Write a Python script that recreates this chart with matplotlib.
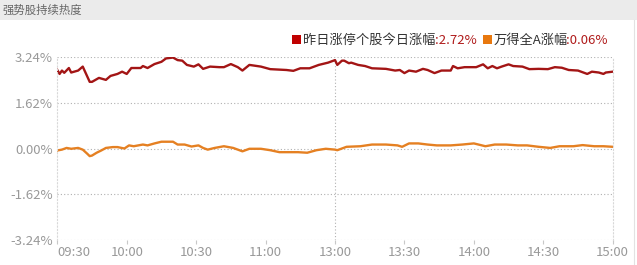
import matplotlib
matplotlib.use('Agg')
import matplotlib.pyplot as plt
from matplotlib.patches import Rectangle

plt.rcParams['font.family'] = ['Noto Sans CJK SC', 'DejaVu Sans']

title = '强势股持续热度'
name1 = '昨日涨停个股今日涨幅'
name2 = '万得全A涨幅'
last1 = ':2.72%'
last2 = ':0.06%'

# trading minutes since 09:30 (0..240, lunch break removed)
t_red = [0, 1, 2, 3, 5, 6, 9, 11, 12, 14, 15, 18, 21, 23, 26, 28, 30, 32, 36, 37,
         39, 42, 45, 47, 50, 52, 54, 56, 59, 61, 63, 66, 70, 72, 75, 78, 80, 83, 88, 92,
         99, 102, 105, 109, 113, 117, 120, 121, 123, 124, 126, 127, 130, 133, 136, 142, 146, 148, 150, 152,
         155, 158, 160, 163, 166, 170, 171, 173, 176, 181, 184, 186, 188, 190, 192, 195, 197, 201, 204, 208,
         212, 215, 218, 221, 225, 229, 231, 234, 236, 237, 240]
v_red = [2.78, 2.64, 2.76, 2.68, 2.85, 2.69, 2.76, 2.90, 2.72, 2.36, 2.36, 2.50, 2.43, 2.57, 2.64, 2.72, 2.64, 2.85, 2.85, 2.92,
         2.85, 2.99, 3.07, 3.19, 3.22, 3.13, 3.11, 2.96, 2.90, 2.98, 2.82, 2.90, 2.88, 2.88, 2.99, 2.88, 2.76, 2.96, 2.90, 2.81,
         2.78, 2.75, 2.84, 2.84, 2.96, 3.04, 3.13, 2.96, 3.11, 3.11, 3.02, 3.04, 2.96, 2.92, 2.84, 2.82, 2.76, 2.78, 2.67, 2.76,
         2.72, 2.82, 2.78, 2.67, 2.76, 2.76, 2.92, 2.84, 2.88, 2.88, 2.98, 2.84, 2.92, 2.84, 2.90, 2.98, 2.92, 2.90, 2.81, 2.82,
         2.81, 2.88, 2.86, 2.78, 2.76, 2.64, 2.72, 2.69, 2.64, 2.69, 2.72]

t_org = [0, 2, 4, 6, 9, 11, 13, 14, 15, 17, 19, 21, 24, 26, 29, 31, 33, 37, 39, 42,
         45, 50, 52, 55, 58, 61, 63, 65, 68, 72, 76, 80, 83, 88, 92, 96, 104, 108, 112, 116,
         120, 121, 125, 131, 136, 142, 147, 149, 152, 156, 160, 164, 170, 175, 180, 185, 189, 194, 199, 203,
         208, 213, 217, 223, 227, 232, 236, 240]
v_org = [-0.07, -0.04, 0.02, -0.01, 0.02, -0.04, -0.19, -0.27, -0.25, -0.15, -0.07, 0.02, 0.05, 0.05, 0.00, 0.11, 0.08, 0.14, 0.11, 0.18,
         0.24, 0.24, 0.14, 0.14, 0.07, 0.11, 0.02, -0.04, 0.02, 0.08, 0.02, -0.10, -0.01, -0.01, -0.06, -0.13, -0.13, -0.15, -0.06, -0.01,
         -0.04, -0.06, 0.06, 0.08, 0.14, 0.14, 0.11, 0.06, 0.18, 0.18, 0.14, 0.11, 0.11, 0.14, 0.18, 0.08, 0.14, 0.14, 0.11, 0.11,
         0.06, 0.02, 0.08, 0.08, 0.12, 0.08, 0.08, 0.06]

x_ticks = [0, 30, 60, 90, 120, 150, 180, 210, 240]
x_labels = ['09:30', '10:00', '10:30', '11:00', '13:00', '13:30', '14:00', '14:30', '15:00']
y_ticks = [-3.24, -1.62, 0.0, 1.62, 3.24]
y_labels = ['-3.24%', '-1.62%', '0.00%', '1.62%', '3.24%']

red = '#a31515'
orange = '#e58022'
grid = '#b0b0b0'
label_c = '#999999'

fig = plt.figure(figsize=(6.37, 2.65), dpi=100)
W, H = 637.0, 265.0

# title bar
fig.add_artist(Rectangle((0, 1 - 20 / H), 1, 20 / H, transform=fig.transFigure,
                         facecolor='#ebebeb', edgecolor='none'))
fig.text(2 / W, 1 - 10 / H, title, fontsize=8.2, color='#666666', va='center', ha='left')
fig.add_artist(plt.Line2D([634 / W, 634 / W], [0, 1 - 20 / H], transform=fig.transFigure,
                          color='#e2e2e2', lw=0.8))

ax = fig.add_axes([57.3 / W, 1 - 240 / H, 555.4 / W, 183 / H])
ax.plot(t_red, v_red, color=red, lw=1.7, solid_joinstyle='round')
ax.plot(t_org, v_org, color=orange, lw=1.7, solid_joinstyle='round')

ax.set_xlim(0, 240)
ax.set_ylim(-3.24, 3.24)
ax.set_xticks(x_ticks)
ax.set_xticklabels(x_labels, fontsize=9.5, color=label_c)
ax.get_xticklabels()[0].set_horizontalalignment('left')
ax.set_yticks(y_ticks)
ax.set_yticklabels(y_labels, fontsize=9.5, color=label_c)
ax.tick_params(axis='x', length=3, color='#c8c8c8', pad=1)
ax.tick_params(axis='y', length=0, pad=3)

for y in y_ticks:
    ax.axhline(y, color=grid, lw=0.8, ls=(0, (1, 2)), zorder=0)
ax.axvline(120, color=grid, lw=0.8, ls=(0, (1, 2)), zorder=0)

for s in ['top', 'bottom']:
    ax.spines[s].set_visible(False)
for s in ['left', 'right']:
    ax.spines[s].set_color('#d8d8d8')
    ax.spines[s].set_linestyle((0, (1, 2)))
    ax.spines[s].set_linewidth(0.8)

# legend
ly = 1 - 40 / H
fig.add_artist(Rectangle((292 / W, 1 - 44 / H), 9 / W, 9 / H, transform=fig.transFigure,
                         facecolor='#c00000', edgecolor='none'))
t1 = fig.text(303 / W, ly, name1, fontsize=9.5, color='#333333', va='center', ha='left')
fig.text(435 / W, ly, last1, fontsize=9.5, color='#b01c1c', va='center', ha='left')
fig.add_artist(Rectangle((483 / W, 1 - 44 / H), 9 / W, 9 / H, transform=fig.transFigure,
                         facecolor='#e8780e', edgecolor='none'))
fig.text(494 / W, ly, name2, fontsize=9.5, color='#333333', va='center', ha='left')
fig.text(566 / W, ly, last2, fontsize=9.5, color='#b01c1c', va='center', ha='left')

fig.savefig('out.png', dpi=100)
